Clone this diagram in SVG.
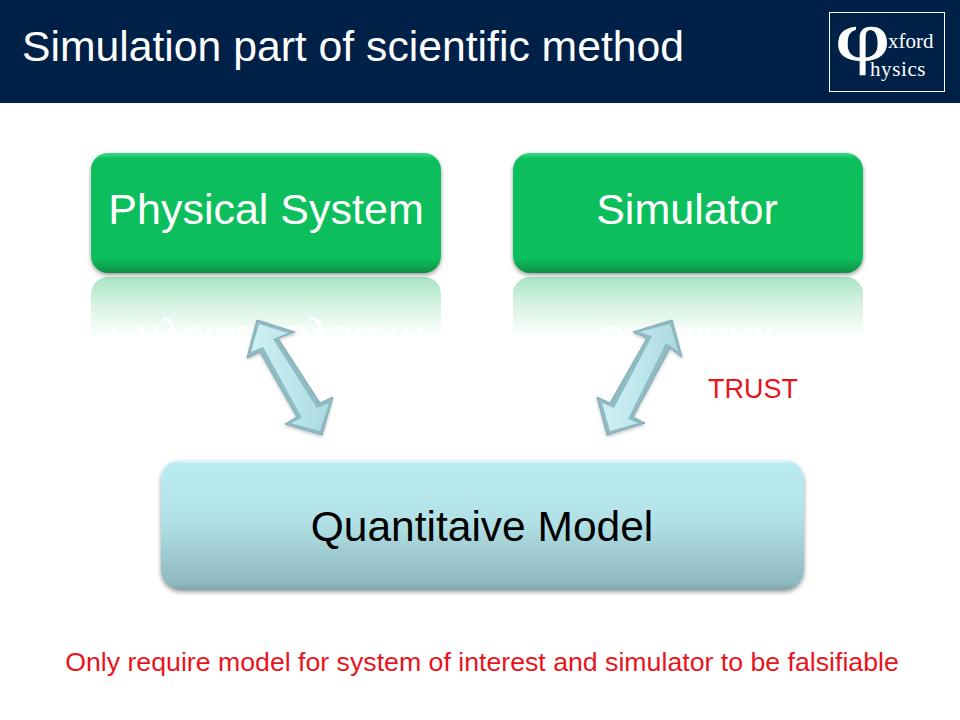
<svg xmlns="http://www.w3.org/2000/svg" width="960" height="720" viewBox="0 0 960 720">
<defs>
<style>
text{font-family:"Liberation Sans",Arial,sans-serif}
.box{font-size:43px;text-anchor:middle;fill:#fff}
.ser{font-family:"Liberation Serif","Times New Roman",serif;fill:#fff}
.red{fill:#e8141c}
.arrow{fill:#8fbcc4;stroke:#7fa9b0;stroke-width:1;stroke-linejoin:round;filter:url(#ash)}
.inner{fill:url(#ag);filter:url(#soft)}
</style>
<linearGradient id="gg" x1="0" y1="0" x2="0" y2="1">
<stop offset="0" stop-color="#3fd585"/><stop offset=".05" stop-color="#0abf5c"/><stop offset=".88" stop-color="#0abf5c"/><stop offset="1" stop-color="#078f45"/>
</linearGradient>
<linearGradient id="rg" gradientUnits="userSpaceOnUse" x1="0" y1="277" x2="0" y2="338">
<stop offset="0" stop-color="#a8e5c3"/><stop offset=".45" stop-color="#d6f3e2"/><stop offset="1" stop-color="#fff"/>
</linearGradient>
<linearGradient id="bg" x1="0" y1="0" x2="0" y2="1">
<stop offset="0" stop-color="#e6fafb"/><stop offset=".03" stop-color="#b9ecf0"/><stop offset=".45" stop-color="#b2e2e7"/><stop offset=".95" stop-color="#8fb9bf"/><stop offset="1" stop-color="#7fa6ac"/>
</linearGradient>
<linearGradient id="ag" x1="0" y1="0" x2="1" y2="0">
<stop offset="0" stop-color="#d0f0f3"/><stop offset=".5" stop-color="#bde7ec"/><stop offset="1" stop-color="#acdae0"/>
</linearGradient>
<filter id="sh" x="-20%" y="-20%" width="140%" height="140%"><feDropShadow dx="0" dy="2" stdDeviation="2" flood-color="#000" flood-opacity=".4"/></filter>
<filter id="ash" x="-20%" y="-20%" width="140%" height="140%"><feDropShadow dx="0" dy="1.500" stdDeviation="1.500" flood-color="#000" flood-opacity=".25"/></filter>
<filter id="soft" x="-10%" y="-10%" width="120%" height="120%"><feGaussianBlur stdDeviation=".7"/></filter>
<clipPath id="rc"><rect x="85" y="277" width="790" height="63"/></clipPath>
</defs>
<rect width="960" height="720" fill="#fff"/>
<g id="header">
<rect width="960" height="103" fill="#002147"/>
<text x="22" y="61" font-size="42.7" fill="#fff">Simulation part of scientific method</text>
</g>
<g id="logo">
<rect x="829.500" y="12.500" width="115" height="79" fill="#002147" stroke="#fff" stroke-width="1"/>
<text class="ser" transform="translate(835 60) scale(1.45 1.05)" font-size="66" stroke="#fff" stroke-width=".6">φ</text>
<text class="ser" x="888" y="48" font-size="21">xford</text>
<text class="ser" x="870" y="76" font-size="21" letter-spacing=".6">hysics</text>
</g>
<g id="physical-reflection" clip-path="url(#rc)">
<rect x="91" y="277" width="350" height="120" rx="17" fill="url(#rg)"/>
<text class="box" transform="translate(0 550) scale(1 -1)" x="266" y="224">Physical System</text>
</g>
<g id="simulator-reflection" clip-path="url(#rc)">
<rect x="513" y="277" width="350" height="120" rx="17" fill="url(#rg)"/>
<text class="box" transform="translate(0 550) scale(1 -1)" x="687" y="224">Simulator</text>
</g>
<g id="physical-system">
<rect x="91" y="153" width="350" height="120" rx="17" fill="url(#gg)" filter="url(#sh)"/>
<text class="box" x="266" y="224">Physical System</text>
</g>
<g id="simulator">
<rect x="513" y="153" width="350" height="120" rx="17" fill="url(#gg)" filter="url(#sh)"/>
<text class="box" x="687" y="224">Simulator</text>
</g>
<g id="connectors">
<g id="arrow-left">
<path class="arrow" d="M257 320 L295 332 L278 338 L320 403 L333 397 L322 435 L285 424 L297 417 L260 352 L247 358 Z"/>
<path class="inner" d="M259 324 L288 333 L273 339 L317 408 L329 403 L320 431 L291 423 L302 418 L263 347 L251 352 Z"/>
</g>
<g id="arrow-right">
<path class="arrow" d="M672 320 L682 357 L670 348 L633 417 L645 423 L607 435 L597 397 L610 403 L647 338 L633 332 Z"/>
<path class="inner" d="M670 324 L678 351 L666 343 L628 419 L638 423 L610 431 L602 403 L614 408 L652 336 L640 332 Z"/>
</g>
</g>
<g id="model">
<rect x="161" y="460" width="643" height="130" rx="20" fill="url(#bg)" filter="url(#sh)"/>
<text x="482" y="540.500" font-size="42.5" text-anchor="middle" fill="#000">Quantitaive Model</text>
</g>
<text class="red" x="708" y="398" font-size="27">TRUST</text>
<text class="red" x="482" y="671" font-size="26.7" text-anchor="middle">Only require model for system of interest and simulator to be falsifiable</text>
</svg>
